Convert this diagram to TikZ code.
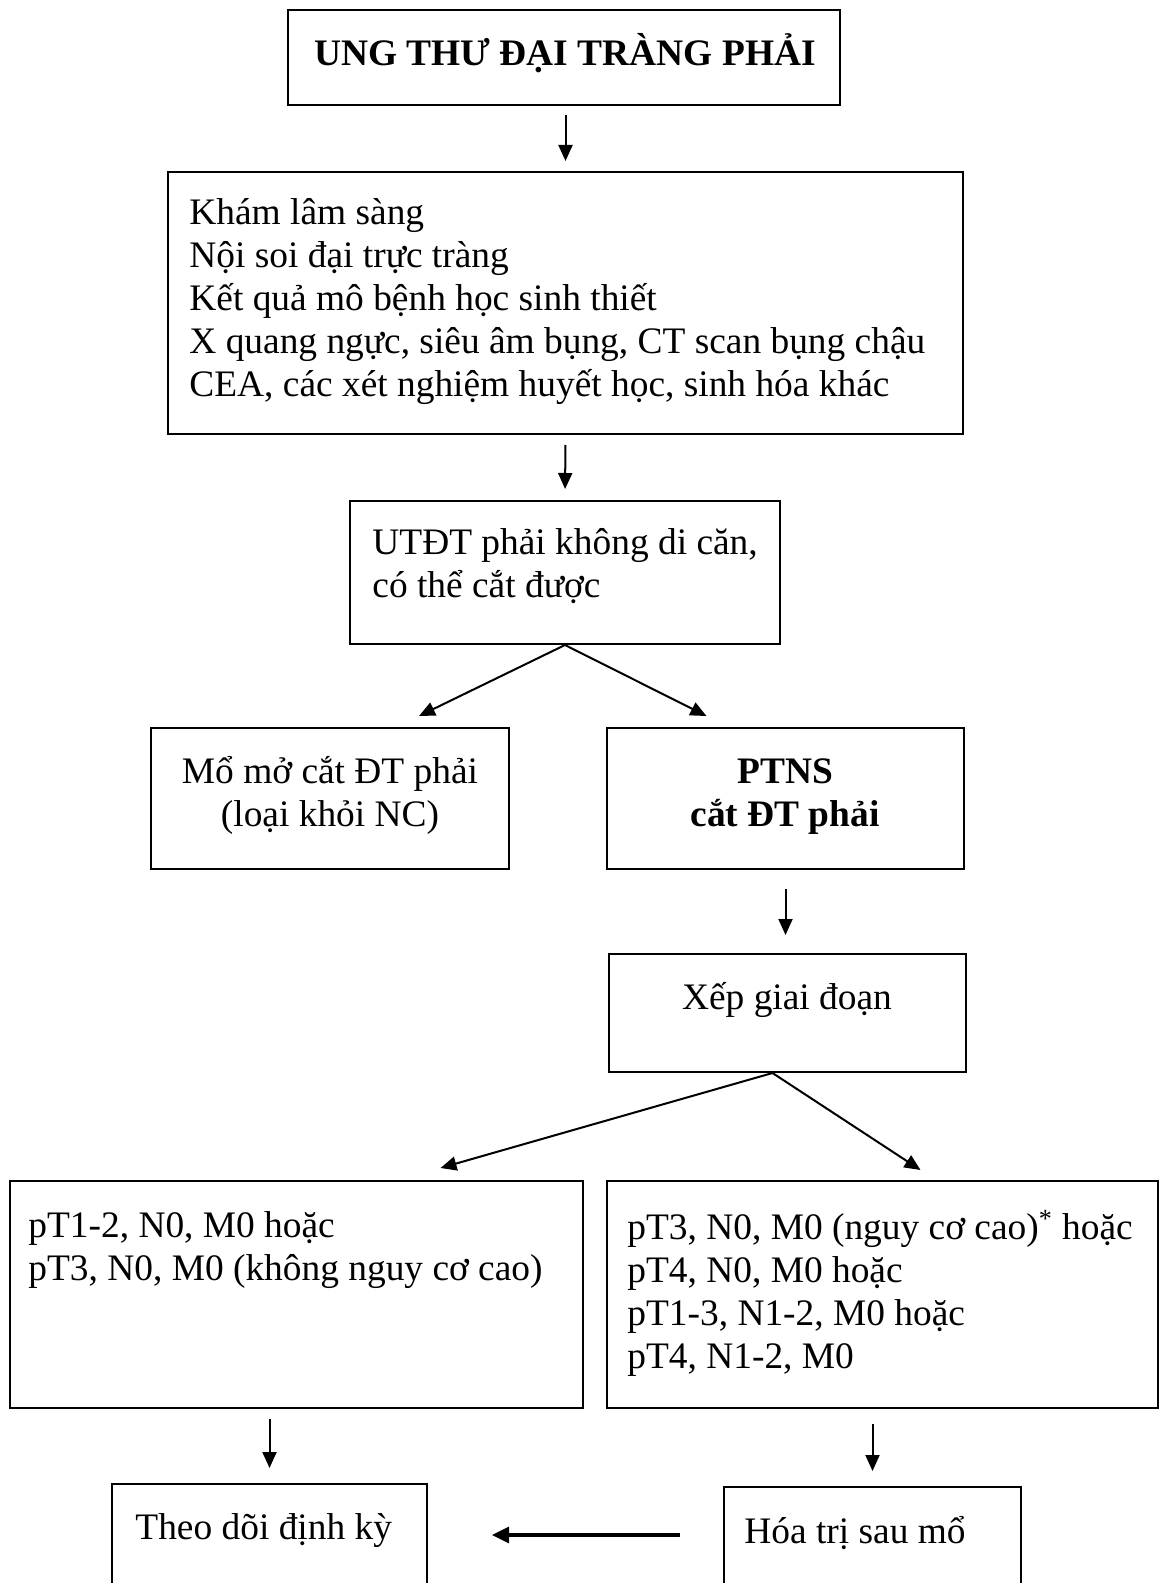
\documentclass[tikz,border=0pt]{standalone}
\usepackage{fontspec}
\setmainfont{Liberation Serif}
\usetikzlibrary{arrows.meta,fit,calc}
\newcommand{\bodysize}{\fontsize{18.7}{21.4}\selectfont}

\begin{document}
\begin{tikzpicture}[
  x=0.5pt, y=-0.5pt,
  font=\bodysize,
  >={Triangle[length=8pt,width=7pt]},
  box/.style={draw, line width=1pt, inner sep=0pt},
  txt/.style={inner sep=0pt, align=left},
  headtxt/.style={txt, font=\bodysize\bfseries},
  flow/.style={->, line width=1pt}
]
\useasboundingbox (0,0) rectangle (1160,1583);
\clip (0,0) rectangle (1160,1583);

% ---- boxes, top to bottom ----
\node[box, fit={(288,10) (840,105)}] (ung) {};
\node[box, fit={(168,172) (963,434)}] (kham) {};
\node[box, fit={(350,501) (780,644)}] (utdt) {};
\node[box, fit={(151,728) (509,869)}] (momo) {};
\node[box, fit={(607,728) (964,869)}] (ptns) {};
\node[box, fit={(609,954) (966,1072)}] (xep) {};
\node[box, fit={(10,1181) (583,1408)}] (nhom1) {};
\node[box, fit={(607,1181) (1158,1408)}] (nhom2) {};
\node[box, fit={(112,1484) (427,1640)}] (theodoi) {};
\node[box, fit={(724,1487) (1021,1640)}] (hoatri) {};

% ---- texts (base = last line) ----
\node[headtxt, anchor=base] (tung) at (565,66) {UNG THƯ ĐẠI TRÀNG PHẢI};
\node[txt, anchor=base west] (tkham) at (189,396)
  {Khám lâm sàng\\Nội soi đại trực tràng\\Kết quả mô bệnh học sinh thiết\\X quang ngực, siêu âm bụng, CT scan bụng chậu\\CEA, các xét nghiệm huyết học, sinh hóa khác};
\node[txt, anchor=base west] (tutdt) at (372,597) {UTĐT phải không di căn,\\có thể cắt được};
\node[txt, align=center, anchor=base] (tmomo) at (330,826) {Mổ mở cắt ĐT phải\\(loại khỏi NC)};
\node[headtxt, align=center, anchor=base] (tptns) at (785,826) {PTNS\\cắt ĐT phải};
\node[txt, anchor=base] (txep) at (787,1009) {Xếp giai đoạn};
\node[txt, anchor=base west] (tnhom1) at (28,1280) {pT1-2, N0, M0 hoặc\\pT3, N0, M0 (không nguy cơ cao)};
\node[txt, anchor=base west] (tnhom2) at (627,1368)
  {pT3, N0, M0 (nguy cơ cao)\textsuperscript{*} hoặc\\pT4, N0, M0 hoặc\\pT1-3, N1-2, M0 hoặc\\pT4, N1-2, M0};
\node[txt, anchor=base west] (ttheodoi) at (135,1539) {Theo dõi định kỳ};
\node[txt, anchor=base west] (thoatri) at (744,1543) {Hóa trị sau mổ};

% ---- arrows ----
\draw[flow, shorten <=4.5pt, shorten >=5pt] (kham.north |- ung.south) -- (kham.north);
\draw[flow, shorten <=5pt, shorten >=5.5pt] (kham.south) -- (utdt.north);
\draw[flow] (utdt.south) -- ($(momo.north)+(89,-11)$);
\draw[flow] (utdt.south) -- ($(ptns.north)+(-79,-11)$);
\draw[flow, shorten <=9.5pt, shorten >=9pt] (ptns.south) -- (ptns.south |- xep.north);
\draw[flow] ($(xep.south)+(-15,0)$) -- ($(nhom1.north)+(144,-12)$);
\draw[flow] ($(xep.south)+(-15,0)$) -- ($(nhom2.north)+(38,-10)$);
\draw[flow, shorten <=5pt, shorten >=7.5pt] (theodoi.north |- nhom1.south) -- (theodoi.north);
\draw[flow, shorten <=7.5pt, shorten >=7.5pt] (hoatri.north |- nhom2.south) -- (hoatri.north);
\draw[flow, line width=1.6pt, >={Triangle[length=8.5pt,width=8pt]}]
  ($(hoatri.north west)+(-43,49)$) -- ($(theodoi.north east)+(64,52)$);
\end{tikzpicture}
\end{document}
